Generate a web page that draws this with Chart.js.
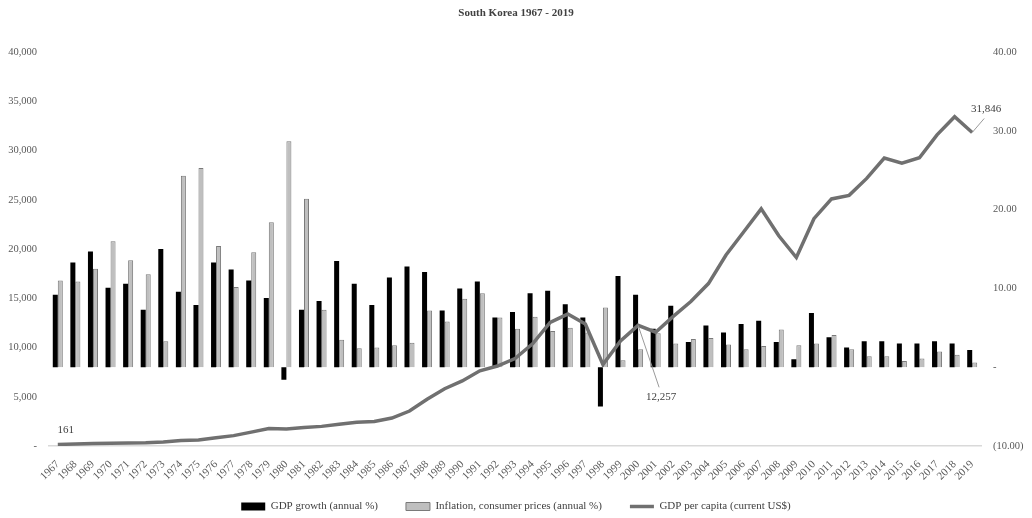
<!DOCTYPE html>
<html>
<head>
<meta charset="utf-8">
<script src="https://cdn.jsdelivr.net/npm/chart.js@4.4.1/dist/chart.umd.min.js"></script>
<style>
html,body{margin:0;padding:0;background:#fff;}
#wrap{width:1032px;height:518px;position:relative;}
</style>
</head>
<body>
<div id="wrap"><canvas id="c"></canvas></div>
<script>
const years = ["1967","1968","1969","1970","1971","1972","1973","1974","1975","1976","1977","1978","1979","1980","1981","1982","1983","1984","1985","1986","1987","1988","1989","1990","1991","1992","1993","1994","1995","1996","1997","1998","1999","2000","2001","2002","2003","2004","2005","2006","2007","2008","2009","2010","2011","2012","2013","2014","2015","2016","2017","2018","2019"];

const gdpGrowth = [9.2,13.3,14.7,10.1,10.6,7.3,15.0,9.6,7.9,13.3,12.4,11.0,8.8,-1.6,7.3,8.4,13.5,10.6,7.9,11.4,12.8,12.1,7.2,10.0,10.9,6.3,7.0,9.4,9.7,8.0,6.3,-5.0,11.6,9.2,4.9,7.8,3.2,5.3,4.4,5.5,5.9,3.2,1.0,6.9,3.8,2.5,3.3,3.3,3.0,3.0,3.3,3.0,2.2];

const inflation = [11.0,10.9,12.5,16.0,13.6,11.8,3.3,24.3,25.3,15.4,10.2,14.6,18.4,28.7,21.4,7.3,3.5,2.4,2.5,2.8,3.1,7.2,5.8,8.7,9.4,6.3,4.9,6.4,4.6,5.0,4.4,7.6,0.9,2.3,4.3,3.0,3.6,3.7,2.9,2.3,2.7,4.8,2.8,3.0,4.1,2.3,1.4,1.4,0.8,1.1,2.0,1.6,0.6];

const gdpPerCapita = [161,198,243,279,301,324,407,563,616,830,1052,1406,1784,1715,1883,1993,2199,2413,2482,2835,3555,4749,5817,6610,7637,8127,8885,10385,12565,13403,12398,8282,10672,12257,11561,13165,14673,16496,19403,21743,24086,21350,19144,23087,25096,25459,27180,29253,28737,29274,31601,33447,31846];

const leftTicks = [0,5000,10000,15000,20000,25000,30000,35000,40000];
const rightTicks = [-10,0,10,20,30,40];
const labelledYears = ["1967","2000","2019"];

const serif = "'Liberation Serif','Times New Roman',serif";
const tickColor = "#595959";

function fmtLeft(v){ return v === 0 ? "-" : v.toLocaleString("en-US"); }
function fmtRight(v){
  if (v === 0) return "-";
  if (v < 0) return "(" + Math.abs(v).toFixed(2) + ")";
  return v.toFixed(2);
}

const legendHeightPlugin = {
  id: "legendHeight",
  beforeLayout(chart){
    const lg = chart.legend;
    if (lg && !lg._patched){
      const orig = lg.fit.bind(lg);
      lg.fit = function(){ orig(); this.height = 34; };
      lg._patched = true;
    }
  },
  afterLayout(chart){
    const lg = chart.legend;
    if (lg){ lg.top = 473; lg.bottom = 518; }
  }
};

const labelPlugin = {
  id: "pointLabels",
  afterDatasetsDraw(chart){
    const ctx = chart.ctx;
    const x = chart.scales.x, y = chart.scales.yL;
    const offsets = {"1967":{dx:8,dy:-14,lead:false},"2000":{dx:23,dy:72,lead:true},"2019":{dx:14,dy:-23,lead:true}};
    ctx.save();
    ctx.font = "11px " + serif;
    ctx.fillStyle = "#404040";
    ctx.textAlign = "center";
    ctx.textBaseline = "middle";
    labelledYears.forEach(yr => {
      const i = years.indexOf(yr);
      const px = x.getPixelForValue(i), py = y.getPixelForValue(gdpPerCapita[i]);
      const o = offsets[yr];
      if (o.lead){
        ctx.strokeStyle = "#9a9a9a";
        ctx.lineWidth = 1;
        ctx.beginPath();
        ctx.moveTo(px, py);
        if (yr === "2000") ctx.lineTo(px + o.dx - 2, py + o.dy - 10);
        else ctx.lineTo(px + o.dx - 2, py + o.dy + 9);
        ctx.stroke();
      }
      ctx.fillText(gdpPerCapita[i].toLocaleString("en-US"), px + o.dx, py + o.dy);
    });
    ctx.restore();
  }
};

new Chart(document.getElementById("c"), {
  data: {
    labels: years,
    datasets: [
      {type:"line", label:"GDP per capita (current US$)", data:gdpPerCapita, yAxisID:"yL",
       borderColor:"#707070", backgroundColor:"#707070", borderWidth:3.5, pointRadius:0,
       pointStyle:"line", tension:0, order:0},
      {type:"bar", label:"GDP growth (annual %)", data:gdpGrowth, yAxisID:"yR",
       backgroundColor:"#000000", borderColor:"#000000", borderWidth:0, pointStyle:"rect",
       categoryPercentage:0.57, barPercentage:1.0, order:1},
      {type:"bar", label:"Inflation, consumer prices (annual %)", data:inflation, yAxisID:"yR",
       backgroundColor:"#bfbfbf", borderColor:"#7a7a7a", borderWidth:1, pointStyle:"rect",
       categoryPercentage:0.57, barPercentage:1.0, order:2}
    ]
  },
  options: {
    responsive:true, maintainAspectRatio:false, animation:false,
    layout:{padding:{left:0,right:0,top:0,bottom:0}},
    plugins:{
      title:{display:true, text:"South Korea 1967 - 2019", color:"#404040",
             font:{family:serif, size:11, weight:"bold"}, padding:{top:7,bottom:32}},
      legend:{position:"bottom",
        labels:{
          usePointStyle:true, pointStyleWidth:24, boxHeight:8,
          color:"#404040", font:{family:serif, size:11}, padding:28,
          sort:(a,b)=>{const ord={"GDP growth (annual %)":0,"Inflation, consumer prices (annual %)":1,"GDP per capita (current US$)":2};return ord[a.text]-ord[b.text];}
        }},
      tooltip:{enabled:false}
    },
    scales:{
      x:{
        grid:{display:false},
        border:{display:true, color:"#d9d9d9", width:1.5},
        ticks:{autoSkip:false, maxRotation:45, minRotation:45, padding:4,
               color:tickColor, font:{family:serif, size:11}},
        afterFit(s){ s.height = 38; }
      },
      yL:{position:"left", min:0, max:40000,
        grid:{display:false}, border:{display:false},
        afterBuildTicks(s){ s.ticks = leftTicks.map(v=>({value:v})); },
        ticks:{callback:v=>fmtLeft(v), color:tickColor, font:{family:serif, size:10.5}, padding:4},
        afterFit(s){ s.width = 49; }
      },
      yR:{position:"right", min:-10, max:40,
        grid:{display:false}, border:{display:false},
        afterBuildTicks(s){ s.ticks = rightTicks.map(v=>({value:v})); },
        ticks:{callback:v=>fmtRight(v), color:tickColor, font:{family:serif, size:10.5}, padding:4},
        afterFit(s){ s.width = 51; }
      }
    }
  },
  plugins:[legendHeightPlugin, labelPlugin]
});
</script>
</body>
</html>
